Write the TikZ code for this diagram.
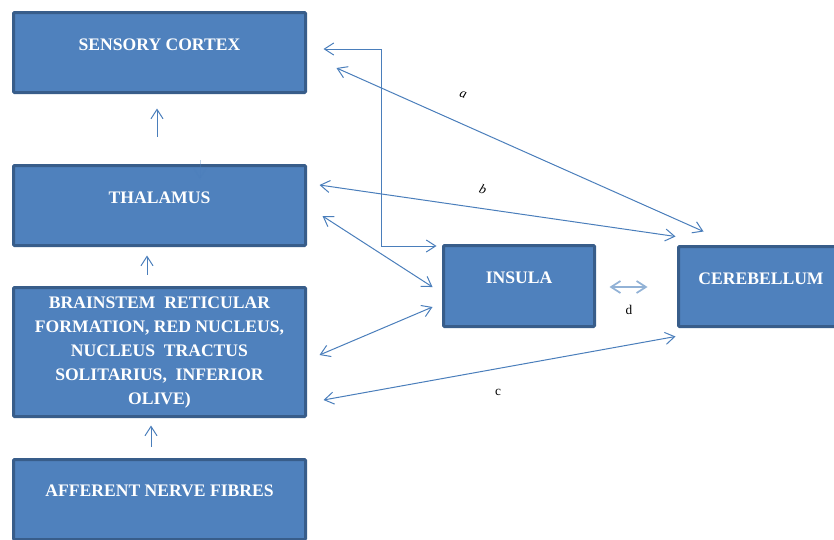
\documentclass[tikz,border=0pt]{standalone}
\usepackage{fontspec}
\setmainfont{Liberation Serif}
\usetikzlibrary{calc,arrows.meta}
\definecolor{blokvul}{HTML}{4F81BD}
\definecolor{bloklijn}{HTML}{385D8A}
\definecolor{pijlkleur}{HTML}{4A7EBB}
\tikzset{
    blok/.style={draw=bloklijn, fill=blokvul, line width=2.25pt, inner sep=0pt, rounded corners=0.75pt},
    bloktekst/.style={text=white, font=\bfseries\fontsize{13.2}{18}\selectfont, align=center, inner sep=0pt},
    pijl/.style={draw=pijlkleur, line width=0.75pt, -{Straight Barb[length=7pt,width=9pt]}},
    dubbelpijl/.style={pijl, {Straight Barb[length=7pt,width=9pt]}-{Straight Barb[length=7pt,width=9pt]}},
    letter/.style={font=\fontsize{10}{12}\selectfont, inner sep=1pt}
}

\begin{document}
\begin{tikzpicture}[x=0.75pt,y=-0.75pt]
    \useasboundingbox (0,0) rectangle (834,539);
    % blokken links
    \node[blok, minimum width=219pt, minimum height=60pt] (sc) at (159.5,52.5) {};
    \node[blok, minimum width=219pt, minimum height=60pt] (th) at (159.5,205.5) {};
    \node[blok, minimum width=219pt, minimum height=96.75pt] (bs) at (159.5,352) {};
    \node[blok, minimum width=219pt, minimum height=60pt] (af) at (159.5,499.5) {};
    % blokken rechts
    \node[blok, minimum width=113.25pt, minimum height=60.75pt] (ins) at (519,286) {};
    \node[blok, minimum width=123.75pt, minimum height=60pt] (cb) at (761,286.5) {};

    \node[bloktekst] (sc-t) at (159.5,45) {SENSORY CORTEX};
    \node[bloktekst] (th-t) at (159.5,198) {THALAMUS};
    \node[bloktekst] (bs-t) at (159.5,352.5) {BRAINSTEM\ \ RETICULAR\\ FORMATION, RED NUCLEUS,\\ NUCLEUS\ \ TRACTUS\\ SOLITARIUS,\ \ INFERIOR\\ OLIVE)};
    \node[bloktekst] (af-t) at (159.5,491) {AFFERENT NERVE FIBRES};
    \node[bloktekst] (ins-t) at (519,278) {INSULA};
    \node[bloktekst] (cb-t) at (761,279) {CEREBELLUM};

    % verticale pijlen
    \draw[pijl] ($(th.north)+(-2.5,-27.5)$) -- ($(sc.south)+(-2.5,14.5)$);
    \draw[pijl, opacity=0.35] ($(th.north)+(40.5,-4)$) -- ($(th.north)+(40.5,15)$);
    \draw[pijl] ($(bs.north)+(-12.5,-11.5)$) -- ($(th.south)+(-12.5,8.5)$);
    \draw[pijl] ($(af.north)+(-8.5,-11.5)$) -- ($(bs.south)+(-8.5,7.5)$);

    % verbindingen
    \draw[dubbelpijl] ($(sc.east)+(16.5,-3.5)$) -- ++(58,0) |- ($(ins.west)+(-5.5,-40)$);
    \draw[dubbelpijl] ($(sc.east)+(29.5,15.5)$) -- ($(cb.north west)+(26.5,-13.5)$);
    \draw[dubbelpijl] ($(th.east)+(12.5,-20.5)$) -- ($(cb.north west)+(-1.5,-8.5)$);
    \draw[dubbelpijl] ($(th.east)+(15.5,10.5)$) -- ($(ins.west)+(-9.5,1)$);
    \draw[dubbelpijl] ($(bs.east)+(12.5,3)$) -- ($(ins.west)+(-9.5,21)$);
    \draw[dubbelpijl] ($(bs.east)+(16.5,48)$) -- ($(cb.south west)+(-1.5,8.5)$);
    \draw[dubbelpijl, line width=1.3pt, draw=pijlkleur!60] ($(ins.east)+(13.5,1)$) -- ($(cb.west)+(-29.5,0.5)$);

    \node[letter, rotate=-20] (la) at (463,95) {\textit{a}};
    \node[letter, rotate=-20] (lb) at (483,189) {\textit{b}};
    \node[letter] (lc) at (498,392) {c};
    \node[letter] (ld) at (629,310) {d};
\end{tikzpicture}
\end{document}
